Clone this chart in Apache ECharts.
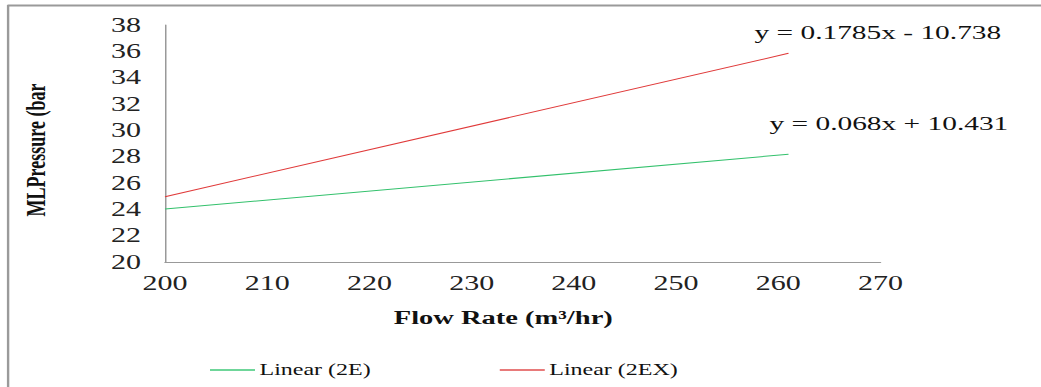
<!DOCTYPE html>
<html>
<head>
<meta charset="utf-8">
<script src="https://cdn.jsdelivr.net/npm/echarts@6/dist/echarts.min.js"></script>
<style>
html,body{margin:0;padding:0;background:#fff;overflow:hidden;}
#wrap{width:1041px;height:387px;overflow:hidden;position:relative;}
#chart{width:694px;height:387px;transform:scaleX(1.5);transform-origin:0 0;}
</style>
</head>
<body>
<div id="wrap"><div id="chart"></div></div>
<script>
// Data (two-point linear trend lines)
const seriesNames = ['Linear (2E)', 'Linear (2EX)'];
const flowRate = [200, 261];
const pressure2E = [24.03, 28.18];
const pressure2EX = [24.96, 35.85];
const equations = ['y = 0.068x + 10.431', 'y = 0.1785x - 10.738'];
const xTicks = { min: 200, max: 270, interval: 10 };
const yTicks = { min: 20, max: 38, interval: 2 };

const SERIF = "'Liberation Serif','Times New Roman',serif";
const chart = echarts.init(document.getElementById('chart'), null, { renderer: 'svg' });

const toPairs = (xs, ys) => xs.map((x, i) => [x, ys[i]]);

chart.setOption({
  backgroundColor: '#fff',
  animation: false,
  grid: { left: 110, right: 107, top: 25, bottom: 125, containLabel: false },
  xAxis: {
    type: 'value',
    min: xTicks.min, max: xTicks.max, interval: xTicks.interval,
    splitLine: { show: false },
    axisTick: { show: false },
    axisLine: { show: true, lineStyle: { color: '#999', width: 1 } },
    axisLabel: { fontFamily: SERIF, fontSize: 20, color: '#222', margin: 11 },
    name: 'Flow Rate (m³/hr)',
    nameLocation: 'middle',
    nameGap: 46,
    nameTextStyle: { fontFamily: SERIF, fontSize: 19, fontWeight: 'bold', color: '#111', padding: [0, 26, 0, 0] }
  },
  yAxis: {
    type: 'value',
    min: yTicks.min, max: yTicks.max, interval: yTicks.interval,
    splitLine: { show: false },
    axisTick: { show: false },
    axisLine: { show: true, lineStyle: { color: '#999', width: 1 } },
    axisLabel: { fontFamily: SERIF, fontSize: 20, color: '#222', margin: 16 },
    name: 'MLPressure (bar',
    nameLocation: 'middle',
    nameGap: 77,
    nameRotate: 90,
    nameTextStyle: { fontFamily: SERIF, fontSize: 18, fontWeight: 'bold', color: '#111', padding: [0, 13, 0, 0] }
  },
  legend: {
    left: 135, top: 357,
    itemWidth: 30, itemHeight: 2, itemGap: 86,
    icon: 'rect',
    textStyle: { fontFamily: SERIF, fontSize: 16, color: '#111', padding: [0, 0, 0, -2] },
    data: seriesNames
  },
  series: [
    {
      name: seriesNames[0], type: 'line', showSymbol: false, symbol: 'none',
      data: toPairs(flowRate, pressure2E),
      lineStyle: { color: '#33c16c', width: 1 }, itemStyle: { color: '#6fd69a' }
    },
    {
      name: seriesNames[1], type: 'line', showSymbol: false, symbol: 'none',
      data: toPairs(flowRate, pressure2EX),
      lineStyle: { color: '#e03a3a', width: 1 }, itemStyle: { color: '#e87a7a' }
    }
  ],
  graphic: [
    { type: 'line', silent: true, shape: { x1: 5, y1: 5.5, x2: 700, y2: 5.5 }, style: { stroke: '#9a9a9a', lineWidth: 2 } },
    { type: 'line', silent: true, shape: { x1: 5.4, y1: 5, x2: 5.4, y2: 400 }, style: { stroke: '#9a9a9a', lineWidth: 1.6 } },
    { type: 'text', left: 503, top: 22, style: { text: equations[1], font: '19.6px ' + SERIF, fill: '#111' } },
    { type: 'text', left: 513, top: 113, style: { text: equations[0], font: '19.6px ' + SERIF, fill: '#111' } }
  ]
});
</script>
</body>
</html>
